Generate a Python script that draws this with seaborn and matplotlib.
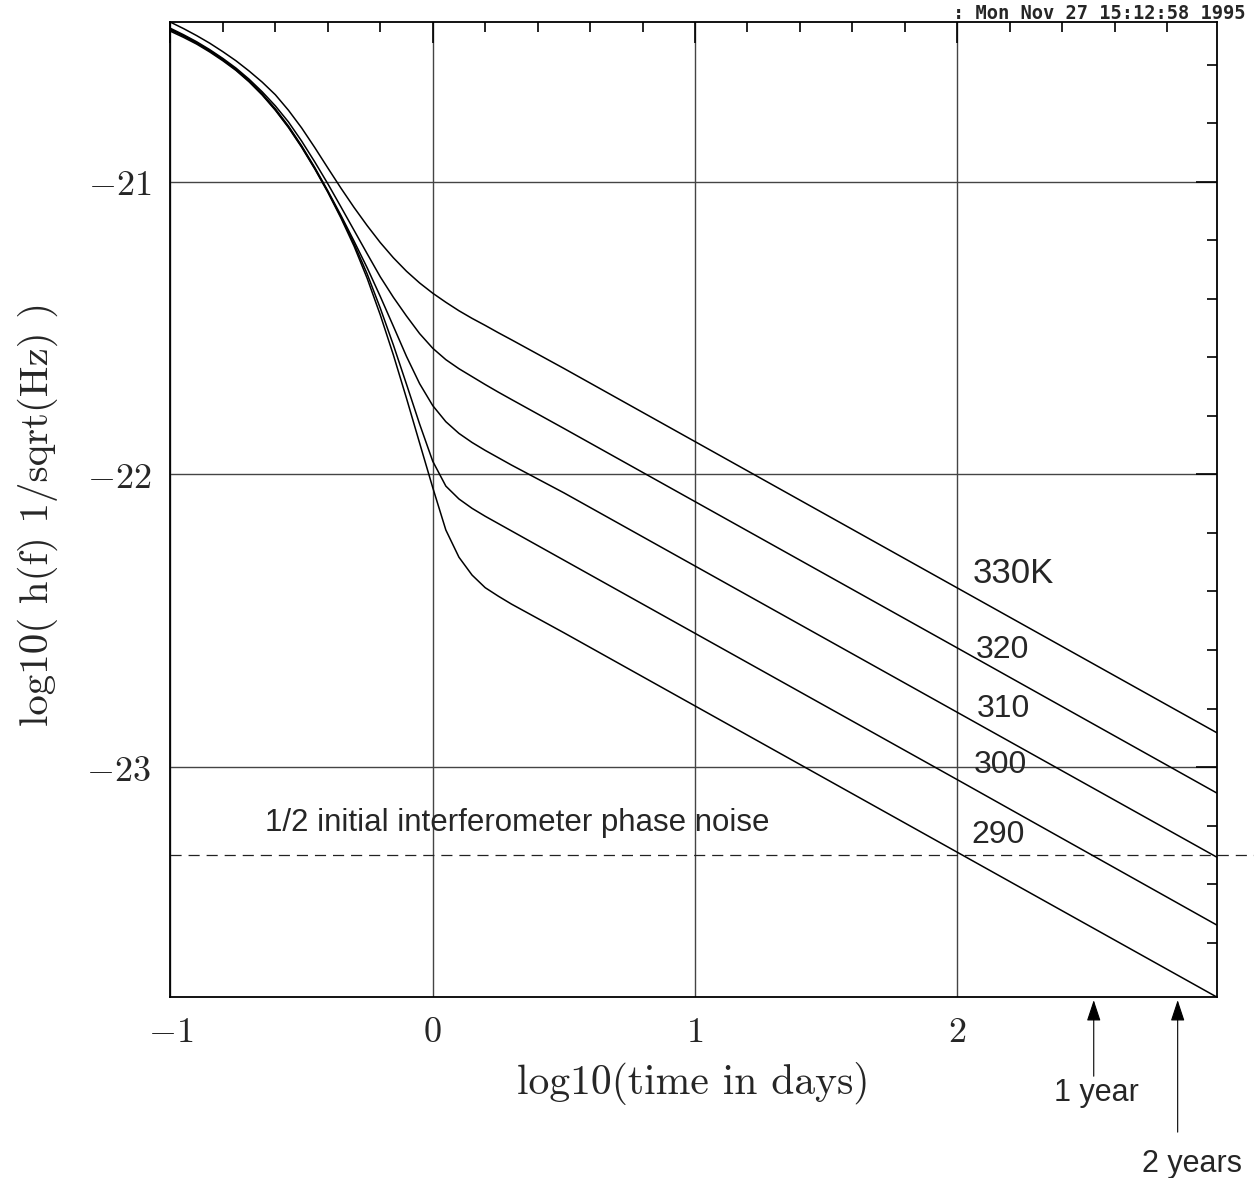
import matplotlib
matplotlib.use("Agg")
import matplotlib.pyplot as plt
from matplotlib import font_manager
from matplotlib.ticker import MultipleLocator, FixedLocator, FixedFormatter
import pandas as pd
import seaborn as sns

# x: log10(time in days), shared by all curves
LOG_T = [-1.0, -0.95, -0.9, -0.85, -0.8, -0.75, -0.7, -0.65, -0.6, -0.55, -0.5,
         -0.45, -0.4, -0.35, -0.3, -0.25, -0.2, -0.15, -0.1, -0.05, 0.0,
         0.05, 0.1, 0.15, 0.2, 0.25, 0.3, 0.5, 1.0, 2.0, 2.99]

# y: log10(h(f)) per temperature
H_330 = [-20.455, -20.477, -20.501, -20.527, -20.556, -20.587, -20.622, -20.660,
         -20.703, -20.756, -20.816, -20.883, -20.953, -21.022, -21.088, -21.150,
         -21.208, -21.260, -21.306, -21.346, -21.381, -21.412, -21.441, -21.467,
         -21.491, -21.516, -21.540, -21.638, -21.888, -22.388, -22.883]
H_320 = [-20.476, -20.498, -20.522, -20.549, -20.579, -20.612, -20.650, -20.693,
         -20.741, -20.796, -20.861, -20.932, -21.007, -21.086, -21.166, -21.246,
         -21.325, -21.395, -21.459, -21.519, -21.569, -21.608, -21.639, -21.666,
         -21.693, -21.719, -21.744, -21.843, -22.093, -22.593, -23.089]
H_310 = [-20.479, -20.501, -20.525, -20.552, -20.582, -20.616, -20.655, -20.700,
         -20.751, -20.810, -20.877, -20.951, -21.031, -21.115, -21.203, -21.294,
         -21.392, -21.494, -21.597, -21.690, -21.765, -21.820, -21.860, -21.891,
         -21.918, -21.943, -21.968, -22.063, -22.313, -22.813, -23.308]
H_300 = [-20.482, -20.503, -20.527, -20.554, -20.584, -20.618, -20.657, -20.702,
         -20.754, -20.813, -20.880, -20.954, -21.034, -21.120, -21.212, -21.315,
         -21.432, -21.558, -21.692, -21.828, -21.955, -22.040, -22.084, -22.116,
         -22.143, -22.168, -22.193, -22.293, -22.543, -23.043, -23.540]
H_290 = [-20.486, -20.507, -20.530, -20.557, -20.587, -20.620, -20.659, -20.704,
         -20.756, -20.815, -20.882, -20.956, -21.036, -21.124, -21.220, -21.330,
         -21.455, -21.592, -21.740, -21.893, -22.045, -22.190, -22.283, -22.344,
         -22.387, -22.416, -22.443, -22.541, -22.791, -23.291, -23.786]

TEMPS = ["330K", "320", "310", "300", "290"]
CURVES = [H_330, H_320, H_310, H_300, H_290]
# where each temperature label sits (x left, baseline y)
LABEL_X = [2.06, 2.071, 2.075, 2.064, 2.052]
LABEL_Y = [-22.371, -22.628, -22.829, -23.020, -23.259]

PHASE_NOISE = -23.3
ARROW_X = [2.52, 2.84]
ARROW_TEXT = ["1 year", "2 years"]

X_TICKS = [-1, 0, 1, 2]
Y_TICKS = [-23, -22, -21]

sns.set_style("white")
plt.rcParams.update({
    "mathtext.fontset": "cm",
    "lines.scale_dashes": False,
})

# the "330K" label is set in a condensed face in the original
_installed = {f.name for f in font_manager.fontManager.ttflist}
NARROW = "Liberation Sans Narrow" if "Liberation Sans Narrow" in _installed else "Liberation Sans"

df = pd.concat(
    [pd.DataFrame({"log_t": LOG_T, "log_h": h, "temp": t}) for t, h in zip(TEMPS, CURVES)],
    ignore_index=True,
)

fig = plt.figure(figsize=(12.54, 11.78), dpi=100)
ax = fig.add_axes([0.1359, 0.1535, 0.8344, 0.8281])

ax.grid(True, which="major", color="#444444", lw=1.0)
ax.axhline(PHASE_NOISE, xmin=0, xmax=1.125, color="#222222", lw=0.9,
           dashes=(8, 5), clip_on=False)

sns.lineplot(data=df, x="log_t", y="log_h", hue="temp", palette=["black"] * 5,
             estimator=None, sort=False, legend=False, lw=1.1, ax=ax)

ax.set_xlim(-1, 2.989)
ax.set_ylim(-23.786, -20.4534)

ax.xaxis.set_major_locator(FixedLocator(X_TICKS))
ax.xaxis.set_major_formatter(FixedFormatter([f"${v}$" for v in X_TICKS]))
ax.yaxis.set_major_locator(FixedLocator(Y_TICKS))
ax.yaxis.set_major_formatter(FixedFormatter([f"${v}$" for v in Y_TICKS]))
ax.xaxis.set_minor_locator(MultipleLocator(0.2))
ax.yaxis.set_minor_locator(MultipleLocator(0.2))
ax.tick_params(which="both", direction="in", top=True, right=True, color="black", width=1.2)
ax.tick_params(which="major", length=15)
ax.tick_params(which="minor", length=7.2)
ax.tick_params(axis="x", which="major", labelsize=26, pad=13)
ax.tick_params(axis="y", which="major", labelsize=26, pad=14)
for s in ax.spines.values():
    s.set_color("black")
    s.set_linewidth(1.3)

ax.set_xlabel("log10(time in days)", family="cmr10", fontsize=30)
ax.xaxis.set_label_coords(0.5, -0.088)
ax.xaxis.label.set_va("center")
ax.set_ylabel("log10( h(f) 1/sqrt(Hz) )", family="cmr10", fontsize=29.5)
ax.yaxis.set_label_coords(-0.1265, 0.495)
ax.yaxis.label.set_va("center")

for t, lx, ly in zip(TEMPS, LABEL_X, LABEL_Y):
    if t.endswith("K"):
        fam, size = NARROW, (29 if NARROW != "Liberation Sans" else 25)
    else:
        fam, size = "Liberation Sans", 23
    ax.text(lx, ly, t, family=fam, fontsize=size, va="baseline", ha="left")

ax.text(-0.638, -23.218, "1/2 initial interferometer phase noise",
        family="Liberation Sans", fontsize=22.5, va="baseline", ha="left")

y_bot = ax.get_ylim()[0]
for x, txt, tail, base in zip(ARROW_X, ARROW_TEXT, [-24.056, -24.247], [-24.141, -24.384]):
    ax.annotate("", xy=(x, y_bot - 0.01), xytext=(x, tail), annotation_clip=False,
                arrowprops=dict(arrowstyle="-|>,head_length=13,head_width=4.3",
                                mutation_scale=1, color="black", lw=0.8,
                                shrinkA=0, shrinkB=0))
    ax.text(x + 0.01 if txt == "1 year" else x + 0.055, base, txt, family="Liberation Sans",
            fontsize=22, ha="center", va="baseline", clip_on=False)

fig.text(0.993, 0.9839, ": Mon Nov 27 15:12:58 1995", ha="right", va="baseline",
         family="DejaVu Sans Mono", weight="bold", fontsize=13.5)

fig.savefig("out.png", dpi=100, facecolor="white")
